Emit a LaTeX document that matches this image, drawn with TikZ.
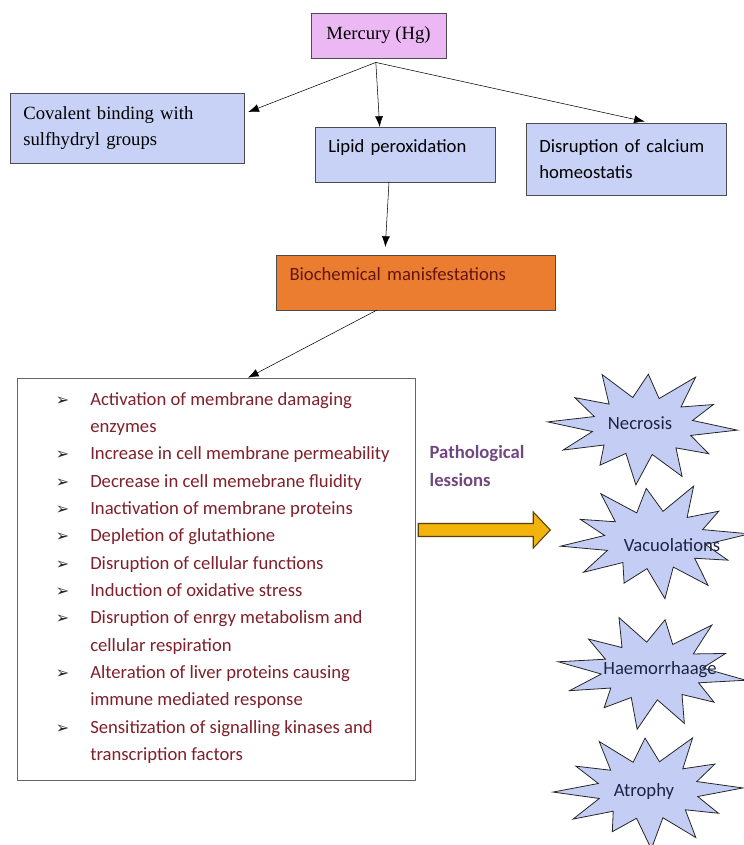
\documentclass[tikz,border=0pt]{standalone}
\usepackage{fontspec}
\setmainfont{Carlito}
\newfontfamily\timesfont{Liberation Serif}
\newfontfamily\symfont{DejaVu Sans}
\usetikzlibrary{positioning}
\usetikzlibrary{calc}
\usetikzlibrary{arrows.meta}

\definecolor{mercpink}{RGB}{236,184,244}
\definecolor{boxblue}{RGB}{200,210,246}
\definecolor{bioorange}{RGB}{234,125,48}
\definecolor{biotext}{RGB}{100,20,20}
\definecolor{listred}{RGB}{128,32,42}
\definecolor{pathpurple}{RGB}{112,72,128}
\definecolor{arrowgold}{RGB}{242,180,12}
\definecolor{arrowedge}{RGB}{90,65,10}
\definecolor{starblue}{RGB}{196,206,244}
\definecolor{startext}{RGB}{30,36,70}

\newcommand{\bul}{\makebox[26.25pt][l]{\hspace*{0.5pt}{\symfont\fontsize{12}{12}\selectfont\color{black!85}➢}}}
\newcommand{\nobul}{\hspace*{26.25pt}}
% star outline: centre, turn of first spike
\newcommand{\lesionstar}[2]{%
  \draw[lesionshape] ($(#1)+(#2:95 and 59)$)
    \foreach \k/\f in {0/1.00,1/0.84,2/0.95,3/1.00,4/0.80,5/0.93,6/1.00,7/0.86,8/0.97,9/0.88,10/1.00,11/0.83} {
      -- ($(#1)+({#2+\k*30}:{95*\f} and {59*\f})$) -- ($(#1)+({#2+\k*30+15}:51 and 29)$)
    } -- cycle;}

\begin{document}
\begin{tikzpicture}[x=0.75pt, y=-0.75pt,
        metal/.style={rectangle, draw=black!70, fill=mercpink, minimum width=101pt, minimum height=34pt, font=\timesfont\fontsize{14}{20}\selectfont},
        effect/.style={rectangle, draw=black!70, fill=boxblue, inner xsep=10pt, align=left, font=\fontsize{14}{20}\selectfont},
        manif/.style={rectangle, draw=black!70, fill=bioorange, inner xsep=10pt, align=left, text=biotext, font=\fontsize{14}{20}\selectfont},
        listbox/.style={rectangle, draw=black!60, fill=white, minimum width=298.5pt, minimum height=301.5pt},
        lesionshape/.style={draw=black!85, fill=starblue, semithick, line join=miter},
        lesiontext/.style={text=startext, font=\fontsize{14}{16}\selectfont},
        link/.style={-{Latex[length=8pt, width=6pt]}},
        bigarrow/.style={draw=arrowedge, fill=arrowgold, thick, line join=miter}
      ]
        \useasboundingbox (0,0) rectangle (743,845);

        \node[metal]  (merc) at (378.5,35.5) {Mercury (Hg)};
        \node[effect, minimum width=175.5pt, minimum height=52.5pt, text width=155.5pt, font=\timesfont\fontsize{14}{20}\selectfont] (cov) at (127,128) {Covalent binding with\\sulfhydryl groups};
        \node[effect, minimum width=135pt, minimum height=41pt, text width=115pt] (lip) at (405,154.5) {Lipid peroxidation\\[-8pt]\mbox{}};
        \node[effect, minimum width=150pt, minimum height=54pt, text width=130pt] (cal) at (626,159) {Disruption of calcium\\homeostatis};
        \node[manif, minimum width=209pt, minimum height=41pt, text width=189pt] (bio) at (415.5,282.5) {Biochemical manisfestations\\[-8pt]\mbox{}};

        \coordinate (fork) at ([xshift=-2pt,yshift=-3pt]merc.south);
        \draw[link] (fork) -- ([xshift=3pt,yshift=12pt]cov.east);
        \draw[link] (fork) -- ([xshift=-19pt]lip.north);
        \draw[link, shorten >=4pt] (fork) -- ([xshift=18pt]cal.north);
        \draw[link, shorten >=6pt] ([xshift=-12pt]lip.south) -- ([xshift=-23pt]bio.north);

        % list of manifestations
        \node[listbox] (effects) at (216,579) {};
        \draw[link] ([xshift=-29pt]bio.south) -- ([xshift=24pt]effects.north);
        \node[anchor=north west, inner sep=0pt, align=left, text=listred, font=\fontsize{14}{20.5}\selectfont] (items) at (55,392) {%
            \bul Activation of membrane damaging\\
            \nobul enzymes\\
            \bul Increase in cell membrane permeability\\
            \bul Decrease in cell memebrane fluidity\\
            \bul Inactivation of membrane proteins\\
            \bul Depletion of glutathione\\
            \bul Disruption of cellular functions\\
            \bul Induction of oxidative stress\\
            \bul Disruption of enrgy metabolism and\\
            \nobul cellular respiration\\
            \bul Alteration of liver proteins causing\\
            \nobul immune mediated response\\
            \bul Sensitization of signalling kinases and\\
            \nobul transcription factors};

        \node[align=left, text=pathpurple, font=\bfseries\fontsize{14}{21}\selectfont] (patho) at (477,466) {Pathological\\lessions};
        \draw[bigarrow] ([shift={(3,-55.5)}]effects.east) -- ++(115,0) -- ++(0,-11.5) -- ++(17,18) -- ++(-17,18) -- ++(0,-11.5) -- ++(-115,0) -- cycle;

        % lesions
        \coordinate (nec) at (642.5,426);
        \coordinate (vac) at (655,540);
        \coordinate (hae) at (652,671);
        \coordinate (atr) at (648,790);
        \lesionstar{nec}{4}
        \lesionstar{vac}{-6}
        \lesionstar{hae}{9}
        \lesionstar{atr}{-2}
        \node[lesiontext] (neclabel) at (640,423) {Necrosis};
        \node[lesiontext] (vaclabel) at (672,545) {Vacuolations};
        \node[lesiontext] (haelabel) at (660,670) {Haemorrhaage};
        \node[lesiontext] (atrlabel) at (644,792) {Atrophy};
\end{tikzpicture}
\end{document}
